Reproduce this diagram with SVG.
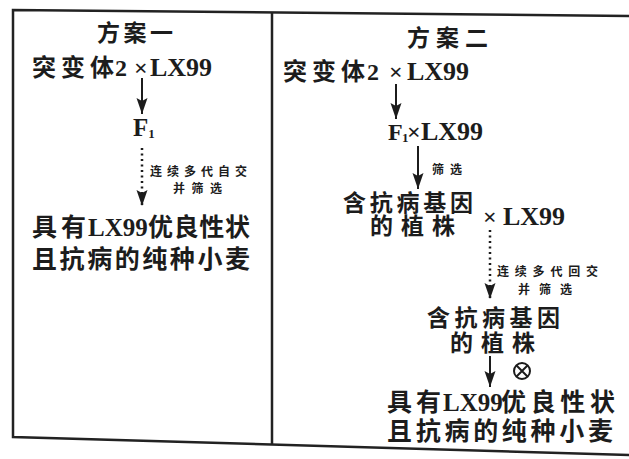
<svg xmlns="http://www.w3.org/2000/svg" width="629" height="459" viewBox="0 0 629 459">
  <defs>
    <style>
      .t { font-family: "Liberation Serif", "Noto Sans CJK SC", serif; font-weight: bold; fill: #1c1c1c; }
      .h { font-size: 23px; }
      .m { font-size: 24px; }
      .b { font-size: 25px; }
      .s { font-size: 12px; }
      .lx { font-size: 26px; }
      .frame { fill: none; stroke: #222; stroke-width: 2.5; }
      .arr { stroke: #1c1c1c; stroke-width: 2; fill: none; marker-end: url(#ah); }
      .dot { stroke: #1c1c1c; stroke-width: 2.5; fill: none; stroke-dasharray: 2 3.5; marker-end: url(#ah); }
    </style>
    <marker id="ah" markerUnits="userSpaceOnUse" markerWidth="18" markerHeight="12" refX="16" refY="6" orient="auto">
      <path d="M0,0.5 L16,6 L0,11.5 L3,6 z" fill="#1c1c1c"/>
    </marker>
  </defs>

  <rect width="629" height="459" fill="#ffffff"/>

  <g id="frame">
    <path class="frame" d="M632,16 L13,10 L13,437 L632,455"/>
    <line class="frame" x1="272" y1="12" x2="272" y2="444"/>
  </g>

  <g id="connectors">
    <line class="arr" x1="142" y1="78" x2="142" y2="114"/>
    <line class="dot" x1="142" y1="148" x2="142" y2="206"/>
    <line class="arr" x1="396" y1="84" x2="396" y2="119"/>
    <line class="arr" x1="418" y1="146" x2="418" y2="189"/>
    <line class="dot" x1="490" y1="230" x2="490" y2="299"/>
    <line class="arr" x1="490" y1="356" x2="490" y2="387"/>
  </g>

  <g id="plan1">
    <g id="plan1-title"><text class="t h" x="97" y="41" textLength="76" lengthAdjust="spacing">方案一</text></g>
    <g id="plan1-cross"><text class="t m" y="76"><tspan x="32" textLength="82" lengthAdjust="spacing">突变体</tspan><tspan x="115">2</tspan><tspan x="134">×</tspan><tspan class="lx" x="150">LX99</tspan></text></g>
    <g id="plan1-f1"><text class="t b" x="133" y="136">F<tspan font-size="13" dy="2">1</tspan></text></g>
    <g id="plan1-label"><text class="t s" x="150" y="176" textLength="97" lengthAdjust="spacing">连续多代自交</text>
      <text class="t s" x="173" y="193" textLength="49" lengthAdjust="spacing">并筛选</text></g>
    <g id="plan1-result"><text class="t b" y="236"><tspan x="32" textLength="54" lengthAdjust="spacing">具有</tspan><tspan x="88">LX99</tspan><tspan x="148" textLength="102" lengthAdjust="spacing">优良性状</tspan></text>
      <text class="t b" x="32" y="268" textLength="218" lengthAdjust="spacing">且抗病的纯种小麦</text></g>
  </g>

  <g id="plan2">
    <g id="plan2-title"><text class="t h" x="407" y="46" textLength="81" lengthAdjust="spacing">方案二</text></g>
    <g id="plan2-cross"><text class="t m" y="80"><tspan x="283" textLength="82" lengthAdjust="spacing">突变体</tspan><tspan x="367">2</tspan><tspan x="389">×</tspan><tspan class="lx" x="407">LX99</tspan></text></g>
    <g id="plan2-f1"><text class="t m" y="140"><tspan x="388">F</tspan><tspan x="402" font-size="13" dy="2">1</tspan><tspan x="407" dy="-2">×</tspan><tspan class="lx" x="421">LX99</tspan></text></g>
    <g id="plan2-screen"><text class="t s" x="432" y="174" textLength="30" lengthAdjust="spacing">筛选</text></g>
    <g id="plan2-plant1"><text class="t h" x="343" y="211" textLength="130" lengthAdjust="spacing">含抗病基因</text>
      <text class="t h" x="370" y="234" textLength="85" lengthAdjust="spacing">的植株</text></g>
    <g id="plan2-cross2"><text class="t m" y="225"><tspan x="483">×</tspan><tspan class="lx" x="503">LX99</tspan></text></g>
    <g id="plan2-label"><text class="t s" x="497" y="276" textLength="101" lengthAdjust="spacing">连续多代回交</text>
      <text class="t s" x="518" y="294" textLength="54" lengthAdjust="spacing">并筛选</text></g>
    <g id="plan2-plant2"><text class="t h" x="427" y="326" textLength="133" lengthAdjust="spacing">含抗病基因</text>
      <text class="t h" x="450" y="351" textLength="85" lengthAdjust="spacing">的植株</text></g>
    <g id="plan2-selfing">
      <circle cx="522" cy="371" r="8" fill="none" stroke="#1c1c1c" stroke-width="2"/>
      <path d="M516.3,365.3 L527.7,376.7 M527.7,365.3 L516.3,376.7" stroke="#1c1c1c" stroke-width="2"/>
    </g>
    <g id="plan2-result"><text class="t b" y="411"><tspan x="387" textLength="54" lengthAdjust="spacing">具有</tspan><tspan x="443">LX99</tspan><tspan x="501" textLength="114" lengthAdjust="spacing">优良性状</tspan></text>
      <text class="t b" x="387" y="440" textLength="226" lengthAdjust="spacing">且抗病的纯种小麦</text></g>
  </g>
</svg>
